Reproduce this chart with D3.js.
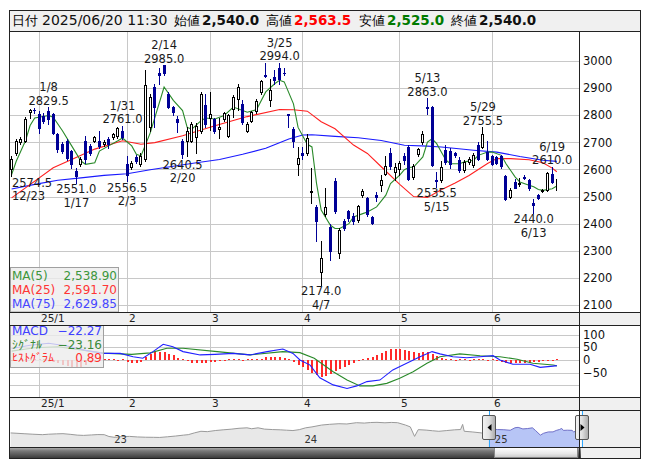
<!DOCTYPE html>
<html><head><meta charset="utf-8">
<script src="https://cdn.jsdelivr.net/npm/d3@7"></script>
<style>
body{margin:0;background:#fff}
svg{display:block}
text{font-family:"DejaVu Sans",Verdana,sans-serif}
</style>
</head><body>
<svg id="c" width="653" height="470"></svg>
<script>
// ---------------- DATA ----------------
const dates = ["12/23","12/24","12/25","12/26","12/27","12/30","1/6","1/7","1/8","1/9","1/10","1/14","1/15","1/16","1/17","1/20","1/21","1/22","1/23","1/24","1/27","1/28","1/29","1/30","1/31","2/3","2/4","2/5","2/6","2/7","2/10","2/12","2/13","2/14","2/17","2/18","2/19","2/20","2/21","2/25","2/26","2/27","2/28","3/3","3/4","3/5","3/6","3/7","3/10","3/11","3/12","3/13","3/14","3/17","3/18","3/19","3/21","3/24","3/25","3/26","3/27","3/28","3/31","4/1","4/2","4/3","4/4","4/7","4/8","4/9","4/10","4/11","4/14","4/15","4/16","4/17","4/18","4/21","4/22","4/23","4/24","4/25","4/28","4/30","5/1","5/2","5/7","5/8","5/9","5/12","5/13","5/14","5/15","5/16","5/19","5/20","5/21","5/22","5/23","5/26","5/27","5/28","5/29","5/30","6/2","6/3","6/4","6/5","6/6","6/9","6/10","6/11","6/12","6/13","6/16","6/17","6/18","6/19","6/20"];

const openP = [2602,2661,2700,2706,2813,2820,2805,2798,2814,2805,
2730,2693,2706,2668,2594,2619,2706,2687,2706,2706,
2694,2712,2718,2722,2743,2619,2610,2645,2620,2640,
2758,2903,2955,2985,2880,2830,2786,2706,2706,2706,
2718,2743,2836,2790,2786,2750,2786,2724,2824,2861,
2842,2743,2780,2817,2886,2950,2855,2942,2973,2955,
2803,2749,2619,2662,2660,2515,2460,2222,2436,2388,
2558,2290,2410,2445,2430,2413,2505,2493,2425,2505,
2542,2585,2660,2590,2600,2648,2683,2572,2658,2701,
2830,2830,2560,2560,2670,2668,2660,2634,2597,2628,
2615,2689,2683,2665,2648,2645,2650,2575,2499,2554,
2545,2572,2560,2475,2505,2520,2523,2585,2540];

const highP = [2650,2712,2718,2795,2823,2826,2815,2810,2829.5,2810,
2735,2700,2712,2672,2606,2645,2725,2695,2722,2743,
2710,2718,2736,2756,2761,2650,2630,2652,2660,2966,
2880,2915,2973,2985,2885,2835,2799,2712,2755,2775,
2770,2885,2880,2886,2790,2790,2812,2805,2873,2916,
2855,2775,2817,2860,2930,2991,2935,2966,2994,2973,
2805,2755,2681,2681,2730,2605,2468,2336,2530,2400,
2568,2385,2418,2452,2438,2470,2528,2500,2430,2515,
2580,2650,2680,2625,2630,2660,2690,2620,2680,2740,
2863,2835,2590,2630,2690,2680,2665,2645,2635,2645,
2660,2700,2755.5,2705,2655,2650,2655,2580,2530,2565,
2570,2580,2565,2490,2510,2528,2590,2610,2563.5];

const lowP = [2574.5,2655,2695,2700,2790,2810,2736,2770,2766,2730,
2665,2660,2635,2606,2551,2612,2625,2655,2700,2680,
2688,2680,2712,2715,2712,2556.5,2600,2625,2612,2630,
2740,2755,2917,2948,2825,2800,2737,2640.5,2650,2700,
2662,2735,2755,2745,2735,2715,2780,2718,2795,2820,
2767,2738,2775,2810,2880,2942,2835,2917,2917,2948,
2755,2681,2581,2640,2655,2478,2335,2174,2428,2265,
2440,2275,2375,2410,2398,2405,2500,2430,2398,2485,
2520,2578,2600,2560,2580,2620,2560,2565,2650,2695,
2805,2612,2535.5,2555,2620,2605,2645,2590,2590,2620,
2610,2635,2680,2635,2615,2620,2605,2486,2495,2530,
2540,2565,2525,2440,2490,2515,2520,2550,2525];

const closeP = [2640,2706,2712,2786,2821,2818,2754,2780,2786,2736,
2674,2668,2644,2619,2575,2637,2637,2662,2718,2687,
2700,2693,2730,2752,2718,2581,2622,2630,2650,2911,
2868,2831,2948,2954,2830,2811,2774,2656,2743,2768,
2760,2880,2768,2805,2743,2758,2807,2800,2867,2904,
2774,2768,2811,2851,2925,2944,2892,2929,2935,2954,
2800,2706,2644,2653,2715,2520,2410,2275,2462,2300,
2448,2378,2385,2420,2410,2464,2520,2437,2403,2499,
2562,2612,2612,2610,2625,2634,2566,2612,2677,2732,
2828,2615,2558,2609,2628,2620,2655,2597,2628,2640,
2652,2640,2732,2640,2619,2625,2612,2490,2523,2533,
2550,2570,2530,2470,2493,2523,2587,2554,2540];

// moving averages: [day index, value]
const ma5Pts = [[0,2581],[1,2630],[3,2706],[4,2762],[5,2790],[8,2799],[9,2793],[11,2743],[13,2687],[15,2631],[16,2619],[18,2625],[19,2668],[21,2687],[23,2706],[24,2716],[26,2687],[27,2656],[28,2650],[30,2735],[33,2904],[35,2855],[37,2817],[38,2755],[39,2749],[41,2780],[42,2790],[44,2786],[46,2799],[48,2830],[51,2811],[53,2820],[55,2886],[57,2917],[58,2929],[59,2923],[61,2842],[62,2755],[64,2693],[65,2683],[66,2548],[67,2450],[69,2394],[70,2382],[71,2382],[73,2400],[74,2425],[76,2437],[77,2443],[79,2462],[81,2505],[82,2548],[84,2579],[85,2599],[86,2607],[87,2609],[89,2646],[90,2701],[91,2713],[92,2695],[93,2664],[94,2634],[95,2621],[97,2621],[98,2628],[100,2634],[101,2652],[103,2664],[104,2664],[106,2652],[107,2621],[109,2572],[110,2554],[112,2542],[113,2536],[114,2526],[115,2523],[117,2529],[118,2538.9]];
const ma25Pts = [[0,2495],[3,2532],[9,2606],[13,2637],[18,2675],[24,2706],[28,2693],[31,2699],[37,2724],[44,2761],[51,2795],[58,2821],[61,2820],[64,2815],[67,2776],[70,2750],[74,2690],[77,2659],[80,2610],[84,2545],[87,2500],[90,2497],[93,2525],[96,2550],[99,2578],[103,2622],[105,2640],[108,2640],[112,2636],[115,2625],[117,2605],[118,2591.7]];
const ma75Pts = [[0,2528],[5,2545],[10,2560],[15,2569],[20,2578],[25,2584],[30,2599],[35,2612],[40,2625],[45,2637],[50,2656],[55,2678],[60,2712],[63,2727],[65,2728],[70,2722],[75,2717],[80,2707],[85,2689],[90,2686],[93,2683],[100,2671],[105,2664],[110,2648],[115,2634],[118,2629.85]];

const macdPts = [[0,45],[4,58],[8,66],[12,55],[16,38],[19.8,26],[23.5,26],[26.3,13],[28.4,7],[30.6,33],[32.8,62],[34.9,52],[37.1,33],[40.8,20],[44,22],[47.9,26],[51.6,20],[55.3,33],[58.7,43],[60.9,26],[62.4,0],[64.6,-20],[66.7,-70],[69.6,-98],[72.6,-112],[74.7,-102],[76.9,-85],[79.7,-79],[82.5,-39],[85.5,-13],[88.4,13],[91,33],[92.7,24],[95.5,13],[98.5,9],[101.4,13],[104.2,17],[105.7,0],[108.5,-17],[112.2,-17],[114.4,-29],[117.2,-24],[118,-22.27]];
const signalPts = [[0,35],[5,48],[10,52],[15,40],[19.8,27],[26,22],[30,28],[33.6,46],[37.1,46],[44.5,33],[51.6,20],[58.7,33],[62.4,29],[65.5,7],[69.6,-46],[72.6,-79],[75.4,-102],[78.2,-102],[81.2,-92],[84,-72],[86.9,-46],[89.9,-13],[92.7,13],[97,24],[101.4,17],[105.7,13],[109.4,3],[112.8,-13],[117.2,-20],[118,-23.16]];
const histVals = [-3,-2,0,2,3,3,2,0,-3,-6,
-12,-18,-24,-28,-30,-28,
-20,-12,-6,-2,
0,1,0,-1,0,
-8,-13,-12,-6,
10,22,30,33,30,25,18,
8,0,-5,
-10,-13,-12,-10,-8,-6,-4,
-2,0,1,0,-1,0,1,0,
5,10,13,13,10,8,
0,-8,-18,-28,-40,-52,-59,-66,
-63,-55,-45,-35,-26,-18,-10,-4,
2,6,12,20,28,36,42,45,43,
39,34,30,26,30,33,22,16,
6,2,0,-1,0,1,-1,0,1,0,-1,0,-3,
-6,-10,-12,-13,-12,-12,-10,-8,-6,-5,
-3,-2,0.89];

const maNames = ["MA(5)","MA(25)","MA(75)"];
const maLast = [2538.90, 2591.70, 2629.85];
const macdNames = ["MACD","ｼｸﾞﾅﾙ","ﾋｽﾄｸﾞﾗﾑ"];
const macdLast = [-22.27, -23.16, 0.89];

const yTicks = [2100,2200,2300,2400,2500,2600,2700,2800,2900,3000];
const macdTicks = [100,50,0,-50];
const macdGrid = [100,50,0,-50,-100];
const monthLabels = ["25/1","2","3","4","5","6"];
const monthIdx = [6,25,43,63,84,104];
const hiIdx = [8,24,33,58,90,102,117];
const loIdx = [0,14,25,37,67,92,113];

const headerDate = "2025/06/20 11:30";
const headerNames = ["始値","高値","安値","終値"];

// navigator: months since 2023-01, price
const navM = [-6.4,-6.0,-5.5,-5.0,-4.4,-4.0,-3.5,-3.1,-2.6,-2.2,-1.8,-1.3,-0.9,-0.5,-0.2,0.2,0.6,1.1,1.6,2.1,2.6,3.0,3.5,4.0,4.5,4.8,5.2,5.6,6.0,6.5,7.0,7.5,8.0,8.5,8.8,9.2,9.6,10.1,10.6,11.0,11.4,11.8,12.2,12.6,13.2,13.7,14.3,14.8,15.4,15.9,16.3,16.7,17.2,17.6,18.0,18.5,18.8,19.07,19.3,19.8,20.2,20.6,21.1,21.6,21.97,22.1,22.2,22.7,23.3,23.7,24.0,24.3,24.7,25.1,25.4,25.6,25.9,26.2,26.5,26.7,27.0,27.2,27.5,27.8,28.0,28.2,28.35,28.45,28.7,29.0,29.1,29.3,29.5];
const navV = [2340,2300,2250,2200,2150,2200,2240,2260,2180,2100,2070,2120,2160,2150,1950,1850,1940,1960,1900,1870,1860,1846,1920,2000,2100,2150,2350,2520,2480,2600,2680,2750,2850,2900,2800,2900,2760,2710,2680,2640,2600,2700,2900,3000,3200,3280,3350,3320,3460,3420,3480,3500,3450,3490,3460,3200,3000,1960,2700,2650,2580,2520,2600,2680,2712,3275,2521,2450,2341,2600,2760,2712,2690,2630,2904,2950,2780,2820,2900,2600,2100,2300,2450,2454,2610,2712,2830,2615,2640,2620,2454,2560,2540];
const navYears = ["23","24","25"];
const navYearM = [0,12,24];
const navSel = [23.75, 29.6];

// ---------------- LAYOUT ----------------
const PL=10, PR=579, FR=640, FT=10, FB=458;
const mainT=31, mainB=312, ax1B=325, macdB=397, ax2B=410, navB=447;

const svg = d3.select("#c");
const defs = svg.append("defs");

const x = d3.scaleLinear().domain([-0.35,122.8]).range([PL,PR]);
const y = d3.scaleLinear().domain([2074.2,3110.7]).range([mainB,mainT]);
const ym = d3.scaleLinear().domain([-145.7,137.8]).range([macdB,ax1B]);
const xn = d3.scaleLinear().domain([-6.44,29.5]).range([PL,PR+1]);
const yn = d3.scaleLinear().domain([800,4850]).range([navB,ax2B]);
const px = i => Math.floor(x(i));
const py = v => Math.round(y(v));

// backgrounds
svg.append("rect").attr("x",0).attr("y",0).attr("width",653).attr("height",470).attr("fill","#fff");
svg.append("rect").attr("x",FT).attr("y",FT).attr("width",FR-PL).attr("height",mainT-FT).attr("fill","#f0f0f0");
[[mainB,ax1B],[macdB,ax2B]].forEach(([a,b])=>{
  svg.append("rect").attr("x",PL).attr("y",a).attr("width",FR-PL).attr("height",b-a).attr("fill","#f0f0f0");
});
svg.append("rect").attr("x",PR).attr("y",ax2B).attr("width",FR-PR).attr("height",FB-ax2B).attr("fill","#f0f0f0");

// ---------------- GRID ----------------
const grid = svg.append("g").attr("stroke","#c8c8c8").attr("stroke-width",1);
yTicks.forEach(v=>grid.append("line").attr("x1",PL).attr("x2",PR).attr("y1",py(v)+0.5).attr("y2",py(v)+0.5));
macdGrid.forEach(v=>{const yy=Math.round(ym(v))+0.5;grid.append("line").attr("x1",PL).attr("x2",PR).attr("y1",yy).attr("y2",yy);});
monthIdx.forEach(i=>{
  const xx = px(i)+0.5;
  grid.append("line").attr("x1",xx).attr("x2",xx).attr("y1",mainT).attr("y2",mainB);
  grid.append("line").attr("x1",xx).attr("x2",xx).attr("y1",ax1B).attr("y2",macdB);
});

// ---------------- MAIN CLIP ----------------
defs.append("clipPath").attr("id","cm").append("rect").attr("x",PL).attr("y",mainT).attr("width",PR-PL).attr("height",mainB-mainT);
defs.append("clipPath").attr("id","cmac").append("rect").attr("x",PL).attr("y",ax1B).attr("width",PR-PL).attr("height",macdB-ax1B);
const gm = svg.append("g").attr("clip-path","url(#cm)");

// moving averages
const lineM = d3.line().x(d=>x(d[0])).y(d=>y(d[1]));
[[ma75Pts,"#1a1aff"],[ma25Pts,"#ff2020"],[ma5Pts,"#2a8a2a"]].forEach(([pts,c])=>{
  gm.append("path").attr("d",lineM(pts)).attr("fill","none").attr("stroke",c).attr("stroke-width",1.1);
});

// candles
const DOWN="#000096";
dates.forEach((d,i)=>{
  const c = px(i), o=openP[i], h=highP[i], l=lowP[i], cl=closeP[i];
  const up = cl>=o;
  gm.append("line").attr("x1",c+0.5).attr("x2",c+0.5).attr("y1",py(h)).attr("y2",py(l)+1)
    .attr("stroke", up?"#000":DOWN).attr("stroke-width",1);
  if(up){
    const t=py(cl), b=py(o);
    gm.append("rect").attr("x",c-0.5).attr("y",t+0.5).attr("width",2).attr("height",Math.max(0,b-t))
      .attr("fill","#fff").attr("stroke","#000").attr("stroke-width",1);
  } else {
    const t=py(o), b=py(cl);
    gm.append("rect").attr("x",c-1).attr("y",t).attr("width",3).attr("height",Math.max(1,b-t+1)).attr("fill",DOWN);
  }
});

// hi/lo annotations
const ann = gm.append("g").attr("font-size",11.5).attr("fill","#1a1a1a").attr("text-anchor","middle");
function clampX(cx,w){return Math.max(PL+w/2+1,Math.min(PR-w/2-1,cx));}
hiIdx.forEach(i=>{
  const cx = x(i), yy=y(highP[i]);
  const v = highP[i].toFixed(1);
  ann.append("text").attr("x",clampX(cx,v.length*7)).attr("y",yy-2.5).text(v);
  ann.append("text").attr("x",clampX(cx,dates[i].length*7)).attr("y",yy-16).text(dates[i]);
});
loIdx.forEach(i=>{
  const cx = x(i), yy=y(lowP[i]);
  const v = lowP[i].toFixed(1);
  ann.append("text").attr("x",clampX(cx,v.length*7)).attr("y",yy+10.5).text(v);
  ann.append("text").attr("x",clampX(cx,dates[i].length*7)).attr("y",yy+24).text(dates[i]);
});

// MA legend
const lg = svg.append("g");
lg.append("rect").attr("x",PL+0.5).attr("y",267.5).attr("width",108).attr("height",mainB-267.5)
  .attr("fill","#ececec").attr("fill-opacity",0.8).attr("stroke","#a0a0a0");
const maCols = ["#3c963c","#ff3535","#4646ff"];
maNames.forEach((n,k)=>{
  lg.append("text").attr("x",12).attr("y",280+k*14).attr("font-size",12).attr("fill",maCols[k]).text(n);
  lg.append("text").attr("x",117).attr("y",280+k*14).attr("font-size",12).attr("fill",maCols[k]).attr("text-anchor","end").text(d3.format(",.2f")(maLast[k]));
});

// y axis main
const yAx = svg.append("g").attr("transform",`translate(${PR},0)`)
  .call(d3.axisRight(y).tickValues(yTicks).tickSize(0).tickPadding(4).tickFormat(d3.format("d")));
yAx.select(".domain").remove();
yAx.selectAll("text").attr("font-size",11.5).attr("fill","#111").attr("font-family","DejaVu Sans");

// ---------------- MACD ----------------
const gmac = svg.append("g").attr("clip-path","url(#cmac)");
histVals.forEach((v,i)=>{
  const c = px(i), y0=Math.round(ym(0)), y1=Math.round(ym(v));
  const hgt=Math.max(1,Math.abs(y1-y0));
  gmac.append("rect").attr("x",c).attr("y",v>=0? y0-hgt : y0).attr("width",2).attr("height",hgt).attr("fill","#ff2a2a");
});
const lineMac = d3.line().x(d=>x(d[0])).y(d=>ym(d[1]));
gmac.append("path").attr("d",lineMac(signalPts)).attr("fill","none").attr("stroke","#2a8a2a").attr("stroke-width",1.1);
gmac.append("path").attr("d",lineMac(macdPts)).attr("fill","none").attr("stroke","#2020ff").attr("stroke-width",1.1);

const mAx = svg.append("g").attr("transform",`translate(${PR},0)`)
  .call(d3.axisRight(ym).tickValues(macdTicks).tickSize(0).tickPadding(4).tickFormat(d3.format("d")));
mAx.select(".domain").remove();
mAx.selectAll("text").attr("font-size",11.5).attr("fill","#111").attr("font-family","DejaVu Sans");

const ml = svg.append("g");
ml.append("rect").attr("x",PL+0.5).attr("y",ax1B+0.5).attr("width",93).attr("height",42)
  .attr("fill","#ececec").attr("fill-opacity",0.8).attr("stroke","#a0a0a0");
const macCols = ["#4040ff","#3a8a3a","#ff3030"];
macdNames.forEach((n,k)=>{
  ml.append("text").attr("x",12).attr("y",335+k*13.5).attr("font-size",k===0?12:11.5).attr("fill",macCols[k])
    .attr("font-family",k===0?"DejaVu Sans":"Noto Sans CJK JP").text(n);
  ml.append("text").attr("x",102).attr("y",335+k*13.5).attr("font-size",12).attr("fill",macCols[k]).attr("text-anchor","end").text(d3.format(".2f")(macdLast[k]));
});

// ---------------- DATE AXES ----------------
[[mainB,322],[macdB,407]].forEach(([top,base])=>{
  monthIdx.forEach((i,k)=>{
    svg.append("text").attr("x",px(i)+2).attr("y",base).attr("font-size",10.5).attr("fill","#222").text(monthLabels[k]);
  });
});

// ---------------- NAVIGATOR ----------------
defs.append("clipPath").attr("id","cnav").append("rect").attr("x",PL).attr("y",ax2B).attr("width",PR+2-PL).attr("height",navB-ax2B);
defs.append("clipPath").attr("id","csel").append("rect").attr("x",xn(navSel[0])).attr("y",ax2B).attr("width",xn(navSel[1])-xn(navSel[0])).attr("height",navB-ax2B);
const navPts = navM.map((m,k)=>[m,navV[k]]);
const area = d3.area().x(d=>xn(d[0])).y0(navB).y1(d=>yn(d[1]));
const nline = d3.line().x(d=>xn(d[0])).y(d=>yn(d[1]));
const gn = svg.append("g").attr("clip-path","url(#cnav)");
gn.append("path").attr("d",area(navPts)).attr("fill","#e8e8e8");
gn.append("path").attr("d",nline(navPts)).attr("fill","none").attr("stroke","#9a9a9a").attr("stroke-width",1);
const gs = svg.append("g").attr("clip-path","url(#csel)");
gs.append("rect").attr("x",xn(navSel[0])).attr("y",ax2B).attr("width",xn(navSel[1])-xn(navSel[0])).attr("height",navB-ax2B).attr("fill","#fff");
gs.append("path").attr("d",area(navPts)).attr("fill","#b7c5f6");
gs.append("path").attr("d",nline(navPts)).attr("fill","none").attr("stroke","#7070c8").attr("stroke-width",1);
navYears.forEach((t,k)=>{
  svg.append("text").attr("x",xn(navYearM[k])+2).attr("y",443).attr("font-size",10).attr("fill","#333").text(t);
});
[navSel[0],navSel[1]].forEach(m=>{
  const xx=Math.round(xn(m))+0.5;
  svg.append("line").attr("x1",xx).attr("x2",xx).attr("y1",ax2B).attr("y2",navB).attr("stroke","#2ea8ff").attr("stroke-width",1);
});

// scrollbar
const gr1 = defs.append("linearGradient").attr("id","gtrack").attr("x1",0).attr("x2",0).attr("y1",0).attr("y2",1);
[["0%","#b8b8b8"],["35%","#7a7a7a"],["100%","#3c3c3c"]].forEach(([o,c])=>gr1.append("stop").attr("offset",o).attr("stop-color",c));
const gr2 = defs.append("linearGradient").attr("id","gthumb").attr("x1",0).attr("x2",0).attr("y1",0).attr("y2",1);
[["0%","#ffffff"],["60%","#e8e8e8"],["100%","#c8c8c8"]].forEach(([o,c])=>gr2.append("stop").attr("offset",o).attr("stop-color",c));
const gr3 = defs.append("linearGradient").attr("id","ghandle").attr("x1",0).attr("x2",1).attr("y1",0).attr("y2",0);
[["0%","#f4f4f4"],["50%","#e0e0e0"],["100%","#a8a8a8"]].forEach(([o,c])=>gr3.append("stop").attr("offset",o).attr("stop-color",c));
const sx0 = Math.round(xn(navSel[0]))+5, sx1 = Math.round(xn(navSel[1]))-4;
svg.append("rect").attr("x",PL).attr("y",navB).attr("width",sx0-PL).attr("height",FB-navB).attr("fill","url(#gtrack)");
svg.append("rect").attr("x",sx0+0.5).attr("y",navB+0.5).attr("width",sx1-sx0-1).attr("height",FB-navB-1).attr("fill","url(#gthumb)").attr("stroke","#888");
svg.append("rect").attr("x",sx1).attr("y",navB).attr("width",PR+2-sx1).attr("height",FB-navB).attr("fill","url(#gtrack)");

// handles
[[navSel[0],-1],[navSel[1],1]].forEach(([m,dir])=>{
  const cx = Math.round(xn(m));
  svg.append("rect").attr("x",cx-6.5).attr("y",415.5).attr("width",13).attr("height",24).attr("rx",1.5)
    .attr("fill","url(#ghandle)").attr("stroke","#555");
  const tx = cx+0.5, ty=427.5;
  const p = dir<0 ? `M${tx+2},${ty-3.5}L${tx-2},${ty}L${tx+2},${ty+3.5}Z` : `M${tx-2},${ty-3.5}L${tx+2},${ty}L${tx-2},${ty+3.5}Z`;
  svg.append("path").attr("d",p).attr("fill","#000");
});

// ---------------- BORDERS ----------------
const bd = svg.append("g").attr("stroke","#222").attr("stroke-width",1).attr("fill","none");
bd.append("rect").attr("x",PL-0.5).attr("y",FT+0.5).attr("width",FR-PL+1).attr("height",FB-FT);
[mainT,mainB,ax1B,macdB,ax2B,navB].forEach(v=>bd.append("line").attr("x1",PL).attr("x2",FR).attr("y1",v+0.5).attr("y2",v+0.5));
bd.append("line").attr("x1",PR+0.5).attr("x2",PR+0.5).attr("y1",mainT).attr("y2",FB);

// ---------------- HEADER ----------------
const hdr = svg.append("g");
const last = dates.length-1;
const hVals = [openP[last],highP[last],lowP[last],closeP[last]];
const hCols = ["#111","#ff0000","#007a00","#111"];
const hNameX = [173.5,265.5,358.5,450.5];
hdr.append("text").attr("x",12).attr("y",25).attr("font-size",13).attr("font-family","Noto Sans CJK JP").text("日付");
hdr.append("text").attr("x",42).attr("y",25).attr("font-size",14).attr("fill","#111").text(headerDate);
headerNames.forEach((n,k)=>{
  hdr.append("text").attr("x",hNameX[k]).attr("y",25).attr("font-size",13).attr("font-family","Noto Sans CJK JP").text(n);
  hdr.append("text").attr("x",hNameX[k]+28.5).attr("y",25).attr("font-size",13.5).attr("font-weight","bold").attr("fill",hCols[k]).text(d3.format(",.1f")(hVals[k]));
});
</script>
</body></html>
